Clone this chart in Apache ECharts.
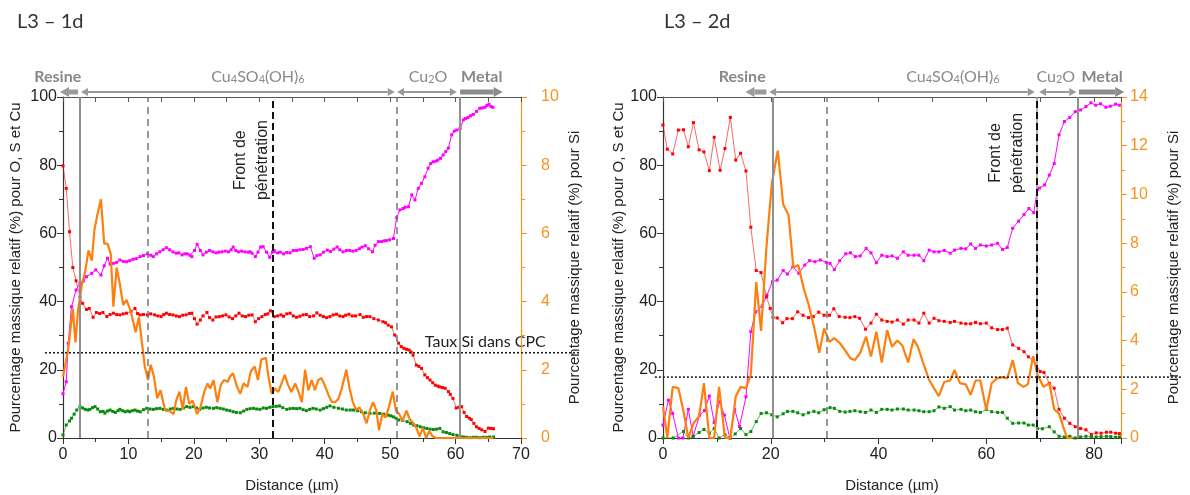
<!DOCTYPE html>
<html><head><meta charset="utf-8">
<script src="https://cdn.jsdelivr.net/npm/echarts@6/dist/echarts.min.js"></script>
<style>html,body{margin:0;padding:0;background:#fff}#c{width:1190px;height:495px}</style>
</head><body><div id="c"></div>
<script>
// ---------- DATA ----------
const titles = ['L3 – 1d', 'L3 – 2d'];
// Left panel (L3 - 1d): [distance µm, %]
const lCu = [[0,13],[0.5,16.5],[0.8,27.8],[1.3,38.5],[2,43.4],[2.6,45.4],[3.1,46],[3.6,47.3],[4.4,48.3],[5,49.3],[5.8,47.8],[6.3,50.5],[6.8,52.7],[7.2,51],[7.7,51.2],[8.2,51.5],[8.7,52.2],[9.2,51.8],[9.7,51.7],[10.2,52],[10.7,52.4],[11.2,52.6],[11.8,53.2],[12.3,53.5],[12.9,54],[13.4,53.6],[13.8,53.2],[14.3,54],[14.8,54.6],[15.3,55.2],[15.8,55.8],[16.3,55.2],[16.8,54.6],[17.3,54.2],[17.7,54.3],[18.2,53.7],[18.6,54],[19,54],[19.4,53.6],[19.7,53.2],[20.1,55],[20.5,56.8],[21,55],[21.4,53.7],[21.9,54.5],[22.4,55],[22.9,54.6],[23.4,54.3],[23.8,54.5],[24.3,54.6],[24.8,54.8],[25.3,54.6],[25.7,55.2],[26,56],[26.4,55],[26.8,54.6],[27.3,54.8],[27.8,54.6],[28.3,54.5],[28.6,54.6],[28.9,54.2],[29.4,53.2],[29.8,54.5],[30.2,56],[30.6,56.1],[31.1,54.5],[31.6,53],[32,54.5],[32.3,55],[32.8,54.3],[33.2,54.5],[33.7,54],[34.2,54.4],[34.7,54.3],[35.2,55],[35.7,55],[36.2,55.2],[36.7,55.3],[37.2,55.6],[37.8,56.1],[38.4,52.7],[38.8,53.5],[39.3,53.7],[39.8,54.5],[40.4,55.1],[40.9,54.7],[41.4,55.4],[41.9,56],[42.3,55.2],[42.8,54.6],[43.3,55],[43.8,55],[44.3,54.8],[44.8,55],[45.3,55.5],[45.7,56],[46.2,56.4],[46.7,55.5],[47.3,54.6],[47.7,56.5],[48.2,57.6],[48.7,57.6],[49.1,57.8],[49.4,57.9],[49.9,58.1],[50.5,58.5],[51,64.6],[51.5,66.9],[52,67.3],[52.3,67.7],[52.8,67.8],[53.3,71.3],[53.8,69.8],[54.3,73.2],[54.8,74.7],[55.3,76.6],[55.8,79.1],[56.2,80.5],[56.6,81],[57,81.2],[57.3,81.5],[57.7,82],[58.1,83],[58.5,84],[58.9,85],[59.4,88.9],[59.8,90],[60.2,90.3],[60.7,90.8],[61.2,93.3],[61.5,93.7],[61.9,94],[62.3,94.5],[62.7,94.9],[63.2,95.8],[63.7,96.7],[64.1,96.8],[64.5,97],[64.8,97.5],[65.1,97.9],[65.4,97.2],[65.7,97]];
const lO = [[0,79.8],[0.5,73.2],[1,60.5],[1.5,50],[2,46.1],[2.6,41.4],[3,39.5],[3.6,37.7],[4,38],[4.6,35.4],[5.1,36.8],[5.6,36.5],[6.1,36.8],[6.7,35.6],[7.2,36.2],[7.7,36.6],[8.2,36.2],[8.7,36.1],[9.2,36.4],[9.7,36.6],[10.4,37.1],[11,38],[11.4,36.5],[11.8,36.1],[12.3,36.2],[12.9,36.1],[13.4,36.4],[14,36.1],[14.5,35.8],[15,35.6],[15.4,36.2],[15.8,36.6],[16.3,36.2],[16.8,36.1],[17.3,35.8],[17.8,35.6],[18.3,36],[18.8,36.1],[19.3,36.5],[19.7,36.6],[20.1,35],[20.5,33.4],[21,34.6],[21.4,35.8],[22,36.8],[22.4,35.3],[22.9,34.6],[23.4,35.5],[23.9,35.6],[24.4,35.8],[24.9,36.1],[25.4,35.5],[25.9,35],[26.4,35.8],[26.9,36.6],[27.4,35.8],[27.9,35.6],[28.4,36],[28.9,36.1],[29.4,34.1],[29.9,35],[30.4,35.6],[30.9,36.2],[31.3,36.4],[31.7,37.3],[32.3,35.6],[32.8,35.8],[33.3,36.1],[33.7,35.7],[34.2,36.4],[34.7,36.6],[35.2,35.8],[35.7,35.4],[36.2,35.7],[36.7,36.1],[37.2,36.2],[37.7,35.6],[38.3,35.8],[38.8,36.7],[39.3,36],[39.8,35.6],[40.3,35.3],[40.8,35.6],[41.3,36.1],[41.8,36.3],[42.3,35.8],[42.8,35.6],[43.2,36],[43.7,36.3],[44.2,35.8],[44.7,35.8],[45.4,36.2],[45.9,35.4],[46.4,35.6],[46.9,35.6],[47.5,35],[48.2,34.6],[48.9,34.1],[49.3,33.8],[49.7,33.1],[50.2,32.6],[50.7,30.2],[51.3,27.8],[51.7,26.8],[52.1,26.3],[52.5,26],[52.9,25.8],[53.2,25.2],[53.5,24.3],[54,21.4],[54.4,21],[54.8,20.4],[55.3,18.5],[55.7,17.7],[56.1,17],[56.5,16.2],[56.9,15.5],[57.3,15.2],[57.6,15],[58,14.8],[58.4,14.6],[58.9,13.6],[59.2,12.8],[59.6,11.6],[60.1,8.8],[60.5,9],[60.9,9.2],[61.3,7.5],[61.7,6.3],[62.1,5.8],[62.4,5.4],[62.8,4.3],[63.2,3.3],[63.6,2.8],[64,2.4],[64.5,1.9],[65,2.9],[65.4,2.8],[65.8,2.7]];
const lS = [[0,0.9],[0.5,3.8],[1,5],[1.3,5.8],[1.7,7],[2.1,8.2],[2.6,9.2],[3,8.8],[3.4,8.4],[3.8,8.2],[4.1,8.4],[4.5,8.9],[4.9,9.2],[5.3,8.5],[5.7,7.7],[6.1,7.8],[6.4,7.3],[6.8,7.9],[7.2,8.2],[7.6,7.8],[8,7.5],[8.4,8],[8.7,8.4],[9.1,8],[9.5,7.7],[9.9,7.9],[10.2,7.7],[10.6,8],[11,8.2],[11.4,7.9],[11.8,7.7],[12.3,8.3],[12.8,8.7],[13.3,8.5],[13.8,8.4],[14.3,8.6],[14.8,8.7],[15.3,8.4],[15.8,8.2],[16.4,8.5],[16.9,8.7],[17.4,8.5],[17.9,8.4],[18.4,8.8],[18.9,9.2],[19.4,9],[19.9,9.2],[20.4,8.8],[20.9,8.4],[21.4,8.8],[21.9,9],[22.4,8.8],[23,8.7],[23.5,8.9],[24,8.7],[24.5,8.5],[25,8.2],[25.5,8],[26,7.7],[26.5,7.5],[27.1,7.4],[27.6,7.9],[28.1,8.4],[28.6,8.6],[29.1,8.7],[29.6,8.5],[30.1,8.4],[30.6,8.8],[31.1,8.7],[31.6,9],[32.1,9.2],[32.6,9.3],[33.1,9.4],[33.6,8.9],[34.2,8.4],[34.7,8.6],[35.2,8.7],[35.7,8.6],[36.2,8.7],[36.7,8.3],[37.2,8],[37.7,8.4],[38.2,8.7],[38.7,8.5],[39.3,8.2],[39.8,8.6],[40.3,9],[40.8,9.4],[41.4,9],[42.1,8.7],[42.7,8.5],[43.3,8.2],[43.9,8.2],[44.4,8.2],[45,8],[45.6,7.7],[46.2,7.4],[46.9,7.2],[47.6,7.3],[48.4,7.2],[49,7],[49.7,6.7],[50.1,6.5],[50.5,6.2],[50.9,5.8],[51.3,5.3],[51.9,5.2],[52.6,4.8],[53.1,4.3],[53.6,3.8],[54.1,3.6],[54.6,3.3],[55.1,3],[55.6,2.8],[56.1,2.6],[56.6,2.5],[57.1,2.6],[57.6,2.8],[58.1,1.8],[58.6,1.6],[59.1,1.3],[59.6,1],[60.2,0.8],[60.7,0.5],[61.2,0.3],[61.7,0.2],[62.2,0.1],[62.7,0.2],[63.2,0.2],[63.7,0.1],[64.2,0.2],[64.7,0.2],[65.2,0.3],[65.8,0.3]];
const lSi = [[0,1.8],[0.3,1.8],[0.8,2.6],[1.5,3.8],[1.9,2.8],[2.3,3.75],[2.9,4.5],[3.4,4.9],[3.9,5.5],[4.4,5.2],[4.8,6.1],[5.2,6.5],[5.8,7.0],[6.3,5.7],[6.8,5.7],[7.3,5.4],[7.7,3.85],[8.2,5.0],[8.7,4.5],[9.2,3.9],[9.7,4.05],[10.2,3.8],[10.5,3.6],[11.1,3.1],[11.6,3.55],[12,2.9],[12.5,2.1],[13,1.7],[13.4,2.15],[13.9,1.8],[14.4,1.16],[14.9,1.4],[15.6,0.82],[16.2,0.8],[16.9,0.7],[17.3,1.1],[17.8,1.36],[18.3,0.85],[18.8,1.5],[19.3,1.0],[19.8,1.1],[20.5,0.7],[21,0.9],[21.6,1.36],[22.1,1.6],[22.5,1.45],[23,1.7],[23.6,1.05],[24.1,1.55],[24.6,1.7],[25.2,1.65],[25.5,1.8],[26,1.9],[26.6,1.5],[27.1,1.3],[27.6,1.6],[28.2,1.5],[28.7,1.95],[29.3,2.1],[29.8,1.7],[30.3,2.3],[31,2.35],[31.4,1.8],[31.9,1.3],[32.4,1.45],[32.9,1.35],[33.4,1.6],[33.9,1.85],[34.4,1.55],[34.9,1.35],[35.5,1.6],[36,1.35],[36.5,1.05],[37,2.0],[37.5,1.4],[38,1.7],[38.5,1.4],[39,1.7],[39.5,1.75],[40,1.55],[40.6,1.25],[41.1,1.05],[41.6,1.05],[42.1,1.15],[42.6,1.45],[43.3,2.0],[43.8,1.45],[44.3,1.05],[44.8,0.82],[45.3,0.9],[45.9,0.7],[46.4,0.43],[46.9,0.8],[47.4,1.05],[47.9,0.8],[48.3,0.23],[48.8,0.7],[49.3,0.6],[49.8,0.9],[50.4,1.36],[50.9,0.8],[51.4,0.7],[51.9,0.5],[52.5,0.8],[53,0.55],[53.5,0.45],[54,0.3],[54.5,0.05],[55,0.3],[55.5,0],[56,0.2],[56.5,0.05],[57,0],[58,0],[60,0],[62,0],[64,0],[65.8,0]];
// Right panel (L3 - 2d)
const rCu = [[0,3.8],[1,11.1],[1.8,7.2],[2.85,0],[3.7,0],[4.7,8.4],[5.6,0.5],[6.8,6.7],[7.7,8],[8.6,12.3],[9.5,4.5],[10.5,10.6],[11.4,6.7],[12.4,0],[13.3,8.4],[14.2,3.4],[15.4,12.1],[16.3,31.2],[17.2,37],[18.4,38.7],[19.3,41.9],[20.3,45.8],[21.2,46.3],[22.3,49.1],[23.1,48.1],[24.1,50.2],[25.2,48.3],[26.3,50.7],[27.2,52],[28.2,51.7],[29.2,52.2],[30.3,51.5],[31,51.2],[31.8,49.4],[32.8,52],[33.9,54],[34.8,54.3],[35.7,53.2],[36.6,53.4],[37.7,55.6],[38.6,54.3],[39.6,51.4],[40.6,53.6],[41.6,53.2],[42.5,53.4],[43.5,52.7],[44.6,54.6],[45.5,53.6],[46.6,53.6],[47.5,53.6],[48.4,52],[49.4,55.1],[50.3,54.6],[51.2,54.6],[52.2,55],[53.3,54.2],[54.1,55.1],[55.3,55.6],[56.2,55.5],[57.1,56.9],[58,55.6],[58.9,56.6],[60,56.3],[61,56.6],[62.1,57.1],[63,55.3],[63.9,55.9],[64.9,61.5],[66,63.6],[67,65.5],[67.9,67.3],[68.8,66.1],[69.5,72.9],[69.9,73.3],[70.8,74.2],[71.7,77.1],[72.6,80.5],[73.5,88.9],[74.5,92.8],[75.5,94],[76.5,95.7],[77.5,96.2],[78.5,97.2],[79.4,98.3],[80.3,97.6],[81.2,98],[82.2,97],[83,97.3],[84,97.9],[84.7,97.6]];
const rO = [[0,91.8],[0.8,84.7],[1.8,83.3],[2.85,90.3],[3.8,90.4],[4.7,85.4],[5.65,92.5],[6.7,84.5],[7.6,83.9],[8.6,78.4],[9.5,88.2],[10.6,78.5],[11.5,84.9],[12.5,94],[13.5,81.5],[14.4,83.5],[15.4,78.3],[16.3,61.8],[17.3,49.1],[18.2,48.5],[19.2,41.4],[19.9,38],[20.4,35.4],[21.2,35.2],[22.2,33.8],[23,35],[24,35],[25,37],[26,36],[27,35.3],[27.9,35.6],[28.9,36.9],[29.9,36],[30.9,36],[31.7,37.9],[32.7,35.6],[33.8,35.4],[34.7,35.3],[35.6,35.6],[36.5,35.1],[37.6,31.9],[38.6,33.7],[39.6,36.3],[40.6,34.6],[41.6,34.2],[42.5,34],[43.5,34.6],[44.6,33.4],[45.5,34.6],[46.6,34.6],[47.5,33.7],[48.4,36.6],[49.4,33.7],[50.3,35.1],[51.2,34.4],[52.2,34.2],[53.3,33.9],[54.1,34.2],[55.3,33.7],[56.2,33.5],[57.1,33.5],[58,33.9],[58.9,33.5],[60,33.7],[61,32.3],[62.1,31.8],[63,31.8],[63.9,32.2],[64.9,27.3],[66,26.3],[67,25.3],[67.8,23.8],[68.7,22.9],[70,19.5],[70.7,19.2],[71.7,16],[72.6,14.6],[73.5,8.4],[74.5,5.8],[75.5,4.3],[76.5,3.3],[77.5,2.8],[78.5,2.4],[79.5,1],[80.4,1.5],[81.3,1.4],[82.3,1.7],[83.1,1.7],[84,1.4],[84.7,1.3]];
const rS = [[0,0],[1.9,0],[3.8,1.9],[4.7,0],[5.6,0.5],[6.7,1.6],[7.6,2.5],[8.6,1.4],[9.5,2.8],[10.4,0],[11.5,1],[12.5,0],[13.4,1.2],[14.4,2.8],[15.4,1],[16.3,1.9],[17.3,4.8],[18.2,7.2],[19.2,7.4],[20.2,6.8],[21.2,6.2],[22.3,7.1],[23.1,7.8],[24.1,7.8],[25,7.4],[26,6.8],[27,7.4],[28,7.8],[28.9,7.4],[29.9,8.3],[31,8.9],[31.8,8.7],[32.8,7.8],[33.8,7.6],[34.7,7.8],[35.6,8],[36.6,7.7],[37.6,7.5],[38.6,8.2],[39.6,7.5],[40.6,8.4],[41.6,8.4],[42.5,8.2],[43.5,8.5],[44.6,8.5],[45.5,8.2],[46.6,8.2],[47.5,8],[48.4,7.7],[49.4,7.7],[50.3,8],[51.2,9.1],[52.2,8.7],[53.3,9.2],[54.1,8.2],[55.3,8.4],[56.2,8],[57.1,8.2],[58,7.7],[58.9,7.5],[60,8.4],[61,7.7],[62.1,7.5],[63,7.5],[63.9,5.8],[64.9,4.3],[66,4.4],[67,4.4],[67.8,3.8],[68.7,3.8],[69.5,2.8],[70.4,2.7],[71.7,3.3],[72.6,1.8],[73.5,0.5],[74.5,0.3],[75.5,0.5],[76.5,0],[77.5,0.3],[78.5,0.5],[79.5,0.3],[80.4,0.3],[81.3,0.4],[82.3,0.5],[83.1,0.4],[84,0.2],[84.7,0.3]];
const rSi = [[0,1.3],[0.8,0],[1.8,2.1],[2.85,2.05],[3.8,1.1],[4.7,0],[5.65,0.6],[6.7,0.9],[7.6,2.25],[8.6,0],[9.5,0],[10.4,2.1],[11.5,0],[12.5,0],[13.5,1.7],[14.4,2.1],[15.4,2.05],[16.3,2.6],[17.3,6.4],[18.2,4.4],[19.2,7.85],[20.2,10.45],[21.3,11.8],[22.3,9.6],[23.3,9.15],[24.2,7.0],[25.1,7.1],[26.1,6.15],[27,5.5],[28,4.6],[29,3.5],[29.9,4.5],[30.9,3.95],[31.8,4.1],[32.8,3.9],[33.8,3.6],[34.8,3.27],[35.6,3.2],[36.6,3.5],[37.7,4.16],[38.6,3.35],[39.6,4.36],[40.6,3.1],[41.6,4.43],[42.5,3.75],[43.5,4.0],[44.4,3.8],[45.5,3.1],[46.5,4.05],[47.3,3.75],[48.3,3.07],[49.4,2.38],[50.3,2.04],[51.2,1.72],[52.2,2.3],[53.3,2.36],[54.1,2.79],[55.1,2.25],[56.2,2.2],[57.1,1.77],[58,2.36],[58.9,2.36],[60,1.15],[61,2.25],[62,2.45],[63,2.5],[63.9,2.45],[64.9,3.2],[65.9,2.25],[66.9,2.1],[67.7,2.2],[68.7,3.37],[69.5,2.6],[70.6,2.1],[71.7,2.25],[72.6,1.18],[73.5,1.0],[74.3,0.45],[75,0],[76,0]];

// Axis ranges / ticks
const xMax = [70, 85], xStep = [10, 20], siMax = [10, 14];
// Annotation values (data units)
const siRef = 2.5;                       // Taux Si dans CPC
const solidLines = [[2.5, 60.7], [20.3, 77]];
const dashedLines = [[13, 51], [30.3]];
const frontLine = [32, 69.4];
// header phases: [label, from, to, kind]
const phases = [
  [['Resine', -0.46, 2.3, 'thickL'], ['Cu4SO4(OH)6', 2.75, 50.7, 'thin'], ['Cu2O', 51.05, 60.2, 'thin'], ['Metal', 60.7, 67.2, 'thickR']],
  [['Resine', 15.3, 19.2, 'thickL'], ['Cu4SO4(OH)6', 19.7, 69.0, 'thin'], ['Cu2O', 69.8, 76.7, 'thin'], ['Metal', 77.2, 85.6, 'thickR']]
];
const phaseLabelX = [[-0.8, 29.8, 55.8, 64], [14.7, 53.8, 72.9, 81.5]];

// ---------- CHART ----------
const chart = echarts.init(document.getElementById('c'), null, {renderer: 'canvas'});
const AX = '#222', ORANGE = '#f7941d';
const FF = "'Liberation Sans', Arial, sans-serif";
const grids = [
  {left: 63, top: 97, width: 458, height: 341, containLabel: false, outerBoundsMode: 'none'},
  {left: 663, top: 97, width: 458, height: 341, containLabel: false, outerBoundsMode: 'none'}];
const xAxes = [], yAxes = [], series = [];
[0, 1].forEach(g => {
  xAxes.push({type: 'value', gridIndex: g, min: 0, max: xMax[g], interval: xStep[g], position: 'bottom',
    name: 'Distance (µm)', nameLocation: 'middle', nameGap: 40,
    nameTextStyle: {fontFamily: FF, fontSize: 15, color: AX},
    axisLine: {onZero: false, lineStyle: {color: '#333', width: 1.2}},
    axisTick: {length: 6, lineStyle: {color: '#333'}},
    minorTick: {show: true, splitNumber: 2, length: 4, lineStyle: {color: '#333'}},
    splitLine: {show: false},
    axisLabel: {fontFamily: FF, fontSize: 16, color: AX, margin: 9, showMaxLabel: g === 0}});
  xAxes.push({type: 'value', gridIndex: g, min: 0, max: xMax[g], interval: g === 0 ? 5 : 10, position: 'top',
    axisLine: {onZero: false, lineStyle: {color: '#555', width: 1.2}},
    axisTick: {inside: true, length: 5, lineStyle: {color: '#555'}},
    axisLabel: {show: false}, splitLine: {show: false}});
  yAxes.push({type: 'value', gridIndex: g, min: 0, max: 100, interval: 20, position: 'left',
    name: 'Pourcentage massique relatif (%) pour O, S et Cu', nameLocation: 'middle', nameGap: g === 0 ? 40 : 36,
    nameTextStyle: {fontFamily: FF, fontSize: 15, color: AX},
    axisLine: {show: true, onZero: false, lineStyle: {color: '#333', width: 1.2}},
    axisTick: {show: true, length: 6, lineStyle: {color: '#333'}},
    minorTick: {show: true, splitNumber: 2, length: 4, lineStyle: {color: '#333'}},
    splitLine: {show: false},
    axisLabel: {fontFamily: FF, fontSize: 16, color: AX, margin: 6}});
  yAxes.push({type: 'value', gridIndex: g, min: 0, max: siMax[g], interval: 2, position: 'right',
    name: 'Pourcentage massique relatif (%) pour Si', nameLocation: 'middle', nameGap: g === 0 ? 46 : 45,
    nameRotate: 90,
    nameTextStyle: {fontFamily: FF, fontSize: 15, color: AX},
    axisLine: {show: true, onZero: false, lineStyle: {color: ORANGE, width: 1.2}},
    axisTick: {show: true, length: 6, lineStyle: {color: ORANGE}},
    minorTick: {show: true, splitNumber: 2, length: 4, lineStyle: {color: ORANGE}},
    splitLine: {show: false},
    axisLabel: {fontFamily: FF, fontSize: 16, color: ORANGE, margin: g === 0 ? 20 : 9}});
});

function vlines(g) {
  const d = [];
  solidLines[g].forEach(v => d.push({xAxis: v, lineStyle: {color: '#8f8f8f', width: 2, type: 'solid'}}));
  dashedLines[g].forEach(v => d.push({xAxis: v, lineStyle: {color: '#777', width: 1.5, type: [7, 5]}}));
  if (g === 1) d.push({xAxis: frontLine[g], lineStyle: {color: '#9a9a9a', width: 1.5, type: 'solid'}});
  d.push({xAxis: frontLine[g], lineStyle: {color: '#111', width: 2, type: [7, 4]}});
  return {silent: true, symbol: ['none', 'none'], label: {show: false}, animation: false, data: d};
}
function pts(name, data, g, color, lineOpacity) {
  return {name, type: 'line', data, xAxisIndex: g * 2, yAxisIndex: g * 2, symbol: 'rect', symbolSize: 3,
    showSymbol: true, animation: false, itemStyle: {color},
    lineStyle: {color, width: 1, opacity: lineOpacity}};
}
const sets = [[lCu, lO, lS, lSi], [rCu, rO, rS, rSi]];
[0, 1].forEach(g => {
  const [cu, o, s, si] = sets[g];
  series.push(pts('Cu', cu, g, '#ff00ff', 1));
  series.push(pts('O', o, g, '#ff0000', 0.6));
  const sS = pts('S', s, g, '#0a8a0a', 0.6);
  sS.markLine = vlines(g);
  series.push(sS);
  series.push({name: 'Si', type: 'line', data: si, xAxisIndex: g * 2, yAxisIndex: g * 2 + 1, symbol: 'none',
    animation: false, z: 4, lineStyle: {color: '#ff7f0e', width: 2.2}});
});

chart.setOption({
  animation: false,
  title: [0, 1].map(g => ({text: titles[g], left: g === 0 ? 12 : 659, top: 7,
    textStyle: {fontFamily: 'Lato, sans-serif', fontSize: 20, fontWeight: 'normal', color: '#333'}})),
  grid: grids, xAxis: xAxes, yAxis: yAxes, series
});

// ---------- ANNOTATIONS (positions from the axes' own scales) ----------
const gEls = [];
function P(g, x, y) { return chart.convertToPixel({seriesIndex: g * 4}, [x, y]); }
function PS(g, x, y) { return chart.convertToPixel({seriesIndex: g * 4 + 3}, [x, y]); }
function arrow(x1, x2, y, w, headL, headR, color) {
  const hl = w > 3 ? 9 : 7, hw = w > 3 ? 10 : 8;
  const a = headL ? x1 + hl : x1, b = headR ? x2 - hl : x2;
  gEls.push({type: 'rect', silent: true, shape: {x: a, y: y - w / 2, width: b - a, height: w}, style: {fill: color}});
  if (headL) gEls.push({type: 'polygon', silent: true, shape: {points: [[x1, y], [x1 + hl, y - hw / 2], [x1 + hl, y + hw / 2]]}, style: {fill: color}});
  if (headR) gEls.push({type: 'polygon', silent: true, shape: {points: [[x2, y], [x2 - hl, y - hw / 2], [x2 - hl, y + hw / 2]]}, style: {fill: color}});
}
[0, 1].forEach(g => {
  const top = P(g, 0, 100)[1];
  const ay = top - 5, ty = top - 20;
  phases[g].forEach((ph, i) => {
    const [label, from, to, kind] = ph;
    const x1 = P(g, from, 0)[0], x2 = P(g, to, 0)[0];
    if (kind === 'thickL') arrow(x1, x2, ay, 5, true, false, '#9b9b9b');
    else if (kind === 'thickR') arrow(x1, x2, ay, 5, false, true, '#8c8c8c');
    else arrow(x1, x2, ay, 2, true, true, '#999');
    const lx = P(g, phaseLabelX[g][i], 0)[0];
    const bold = kind !== 'thin';
    let style;
    if (label === 'Cu4SO4(OH)6') {
      style = {text: '{a|Cu}{s|4}{a|SO}{s|4}{a|(OH)}{s|6}', rich: {
        a: {fontFamily: 'Lato, sans-serif', fontSize: 16, fill: '#8a8a8a', color: '#8a8a8a', verticalAlign: 'bottom'},
        s: {fontFamily: 'Lato, sans-serif', fontSize: 11, fill: '#8a8a8a', color: '#8a8a8a', verticalAlign: 'bottom'}}};
    } else if (label === 'Cu2O') {
      style = {text: '{a|Cu}{s|2}{a|O}', rich: {
        a: {fontFamily: 'Lato, sans-serif', fontSize: 16, fill: '#8a8a8a', color: '#8a8a8a', verticalAlign: 'bottom'},
        s: {fontFamily: 'Lato, sans-serif', fontSize: 11, fill: '#8a8a8a', color: '#8a8a8a', verticalAlign: 'bottom'}}};
    } else {
      style = {text: label, fontFamily: 'Lato, sans-serif', fontSize: 16, fontWeight: bold ? 'bold' : 'normal', fill: '#888'};
    }
    gEls.push({type: 'text', silent: true, x: lx, y: ty, style: Object.assign({align: 'center', verticalAlign: 'middle'}, style)});
  });
  // dotted reference line for Si (extends beyond the plot like the original)
  const yS = PS(g, 0, siRef)[1];
  const xa = g === 0 ? PS(g, -2.75, 0)[0] : PS(g, -1.5, 0)[0];
  const xb = g === 0 ? PS(g, 79, 0)[0] : PS(g, 96.4, 0)[0];
  gEls.push({type: 'line', silent: true, shape: {x1: xa, y1: yS, x2: xb, y2: yS},
    style: {stroke: '#222', lineWidth: 1.6, lineDash: [2, 2]}, z: 10});
  // Front de pénétration
  const fp = P(g, frontLine[g], g === 0 ? 81.5 : 83.6);
  gEls.push({type: 'text', silent: true, x: fp[0] - (g === 0 ? 21 : 30), y: fp[1], rotation: Math.PI / 2,
    style: {text: 'Front de\npénétration', align: 'center', verticalAlign: 'middle', fontFamily: FF, fontSize: 16,
      lineHeight: 22, fill: '#222'}});
});
const tp = PS(0, 55.3, siRef);
gEls.push({type: 'text', silent: true, x: tp[0], y: tp[1] - 11,
  style: {text: 'Taux Si dans CPC', align: 'left', verticalAlign: 'middle', fontFamily: 'Lato, sans-serif', fontSize: 16, fill: '#222'}});
chart.setOption({graphic: {elements: gEls}});
</script>
</body></html>
